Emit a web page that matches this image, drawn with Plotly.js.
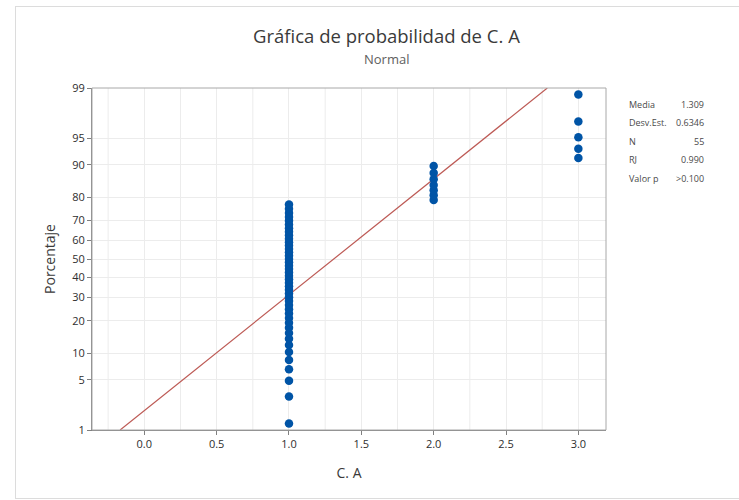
<!DOCTYPE html>
<html>
<head>
<meta charset="utf-8">
<script src="https://cdn.plot.ly/plotly-3.0.1.min.js"></script>
<style>
  html, body { margin: 0; padding: 0; background: #ffffff; }
  #wrap { position: relative; width: 739px; height: 500px; overflow: hidden; }
  #frame { position: absolute; left: 15px; top: 6px; width: 740px; height: 491px;
           border: 1px solid #dcdcdc; pointer-events: none; }
  #chart { position: absolute; left: 0; top: 0; width: 739px; height: 500px; }
</style>
</head>
<body>
<div id="wrap">
  <div id="frame"></div>
  <div id="chart"></div>
</div>
<script>
// Sample values of C. A (counts per observed value)
const values = [1, 2, 3];
const counts = [43, 7, 5];

// Summary statistics shown beside the plot
const statLabels = ["Media", "Desv.Est.", "N", "RJ", "Valor p"];
const statValues = ["1.309", "0.6346", "55", "0.990", ">0.100"];

// Probability-scale tick labels (percent)
const pctTicks = [1, 5, 10, 20, 30, 40, 50, 60, 70, 80, 90, 95, 99];
const xTicks = [0.0, 0.5, 1.0, 1.5, 2.0, 2.5, 3.0];

// Inverse standard normal CDF (Acklam's rational approximation)
function normInv(p) {
  const a = [-3.969683028665376e+01, 2.209460984245205e+02, -2.759285104469687e+02,
             1.383577518672690e+02, -3.066479806614716e+01, 2.506628277459239e+00];
  const b = [-5.447609879822406e+01, 1.615858368580409e+02, -1.556989798598866e+02,
             6.680131188771972e+01, -1.328068155288572e+01];
  const c = [-7.784894002430293e-03, -3.223964580411365e-01, -2.400758277161838e+00,
             -2.549671043739608e+00, 4.374664141464968e+00, 2.938163982698783e+00];
  const d = [7.784695709041462e-03, 3.224671290700398e-01, 2.445134137142996e+00,
             3.754408661907416e+00];
  const pl = 0.02425, ph = 1 - pl;
  let q, r;
  if (p < pl) {
    q = Math.sqrt(-2 * Math.log(p));
    return (((((c[0]*q+c[1])*q+c[2])*q+c[3])*q+c[4])*q+c[5]) /
           ((((d[0]*q+d[1])*q+d[2])*q+d[3])*q+1);
  } else if (p <= ph) {
    q = p - 0.5; r = q * q;
    return (((((a[0]*r+a[1])*r+a[2])*r+a[3])*r+a[4])*r+a[5])*q /
           (((((b[0]*r+b[1])*r+b[2])*r+b[3])*r+b[4])*r+1);
  } else {
    q = Math.sqrt(-2 * Math.log(1 - p));
    return -(((((c[0]*q+c[1])*q+c[2])*q+c[3])*q+c[4])*q+c[5]) /
            ((((d[0]*q+d[1])*q+d[2])*q+d[3])*q+1);
  }
}

// Expand the sample and assign median-rank plotting positions (Benard)
const sample = [];
values.forEach((v, k) => { for (let i = 0; i < counts[k]; i++) sample.push(v); });
sample.sort((u, v) => u - v);
const n = sample.length;
const ptX = [], ptZ = [], ptP = [];
sample.forEach((v, i) => {
  const p = (i + 1 - 0.3) / (n + 0.4);
  ptX.push(v); ptP.push(p * 100); ptZ.push(normInv(p));
});

// Fitted normal line from the sample mean and standard deviation
const mean = sample.reduce((s, v) => s + v, 0) / n;
const sd = Math.sqrt(sample.reduce((s, v) => s + (v - mean) ** 2, 0) / (n - 1));
const zLo = normInv(0.01), zHi = normInv(0.99);
const fitZ = [zLo, zHi];
const fitX = fitZ.map(z => mean + sd * z);

const traces = [
  {
    x: fitX, y: fitZ, type: "scatter", mode: "lines",
    line: { color: "#bd5a55", width: 1.2 }, hoverinfo: "skip", cliponaxis: true
  },
  {
    x: ptX, y: ptZ, type: "scatter", mode: "markers",
    marker: { color: "#0054a6", size: 8.5 },
    customdata: ptP,
    hovertemplate: "C. A: %{x}<br>Porcentaje: %{customdata:.1f}<extra></extra>",
    cliponaxis: false
  }
];

const font = "'Open Sans', 'Noto Sans', sans-serif";

const annotations = [
  { text: "Gráfica de probabilidad de C. A", xref: "paper", yref: "paper",
    x: 0.573, y: 1.0, yshift: 53, xanchor: "center", yanchor: "middle",
    showarrow: false, font: { family: font, size: 18.5, color: "#3a3a3a" } },
  { text: "Normal", xref: "paper", yref: "paper",
    x: 0.573, y: 1.0, yshift: 29, xanchor: "center", yanchor: "middle",
    showarrow: false, font: { family: font, size: 13, color: "#606060" } }
];
// Stats table beside the plot
statLabels.forEach((lab, i) => {
  annotations.push({ text: lab, xref: "paper", yref: "paper", x: 1, xshift: 21,
    y: 1, yshift: -16 - i * 18.6, xanchor: "left", yanchor: "middle",
    showarrow: false, font: { family: font, size: 9, color: "#4a4a4a" } });
  annotations.push({ text: statValues[i], xref: "paper", yref: "paper", x: 1, xshift: 100,
    y: 1, yshift: -16 - i * 18.6, xanchor: "right", yanchor: "middle",
    showarrow: false, font: { family: font, size: 9, color: "#4a4a4a" } });
});

// Minor vertical grid every 0.25
const shapes = [];
for (let g = -0.25; g <= 3.01; g += 0.5) {
  shapes.push({ type: "line", xref: "x", yref: "paper", x0: g, x1: g, y0: 0, y1: 1,
    line: { color: "#ececec", width: 1 }, layer: "below" });
}
// Plot frame
shapes.push({ type: "rect", xref: "paper", yref: "paper", x0: 0, x1: 1, y0: 0, y1: 1,
  line: { color: "#a8a8a8", width: 1 }, layer: "above" });

const layout = {
  width: 739, height: 500,
  margin: { l: 92, r: 133, t: 88, b: 70 },
  paper_bgcolor: "rgba(0,0,0,0)",
  plot_bgcolor: "#ffffff",
  showlegend: false,
  font: { family: font, color: "#333333" },
  xaxis: {
    range: [-0.3615, 3.191],
    tickvals: xTicks,
    ticktext: xTicks.map(v => v.toFixed(1)),
    ticks: "outside", ticklen: 4, tickcolor: "#808080",
    showgrid: true, gridcolor: "#ececec", zeroline: false,
    showline: true, linecolor: "#808080", linewidth: 1,
    tickfont: { family: font, size: 11, color: "#2e2e2e" },
    title: { text: "C. A", font: { family: font, size: 14, color: "#3a3a3a" }, standoff: 17 }
  },
  yaxis: {
    range: [zLo, zHi],
    tickvals: pctTicks.map(p => normInv(p / 100)),
    ticktext: pctTicks.map(String),
    ticks: "outside", ticklen: 4, tickcolor: "#808080",
    showgrid: true, gridcolor: "#ececec", zeroline: false,
    showline: true, linecolor: "#808080", linewidth: 1,
    tickfont: { family: font, size: 11, color: "#2e2e2e" },
    title: { text: "Porcentaje", font: { family: font, size: 14, color: "#3a3a3a" }, standoff: 13 }
  },
  annotations: annotations,
  shapes: shapes
};

Plotly.newPlot("chart", traces, layout, { displayModeBar: false, staticPlot: true });
</script>
</body>
</html>
